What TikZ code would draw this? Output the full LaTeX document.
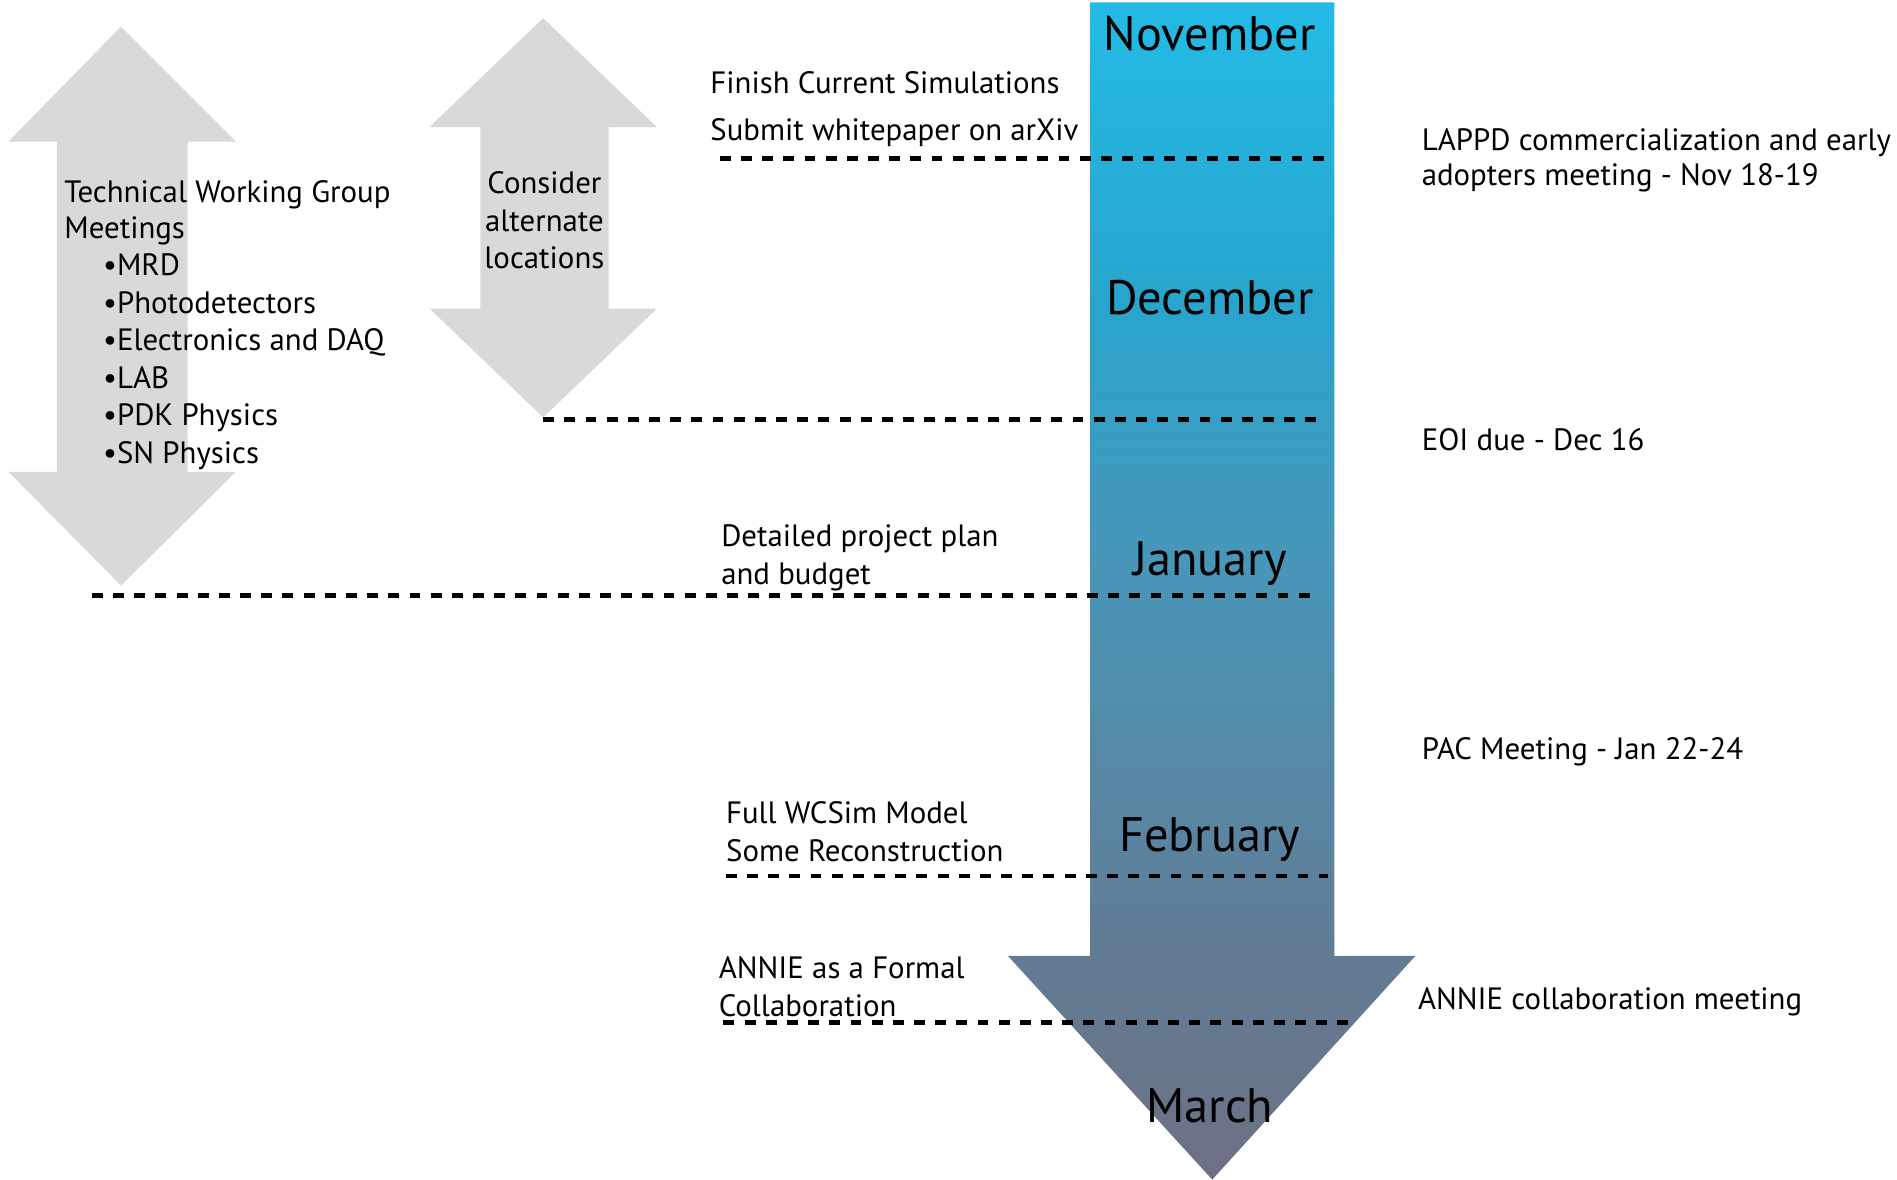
\documentclass[tikz,border=0pt]{standalone}
\usepackage{fontspec}
\setmainfont{PT Sans}
\definecolor{arrowgray}{RGB}{217,217,217}
\definecolor{mA}{RGB}{110,112,132}
\definecolor{mB}{RGB}{98,124,148}
\definecolor{mC}{RGB}{90,132,160}
\definecolor{mD}{RGB}{72,150,185}
\definecolor{mE}{RGB}{40,165,205}
\definecolor{mF}{RGB}{35,187,229}
\pgfdeclareverticalshading{mainarrow}{100bp}{color(0bp)=(mA); color(25bp)=(mA); color(34.5bp)=(mB); color(39.65bp)=(mC); color(51.35bp)=(mD); color(62.45bp)=(mE); color(75bp)=(mF); color(100bp)=(mF)}
\begin{document}
\begin{tikzpicture}[x=1pt,y=-1pt,
  grayarrow/.style={fill=arrowgray, draw=none},
  txt/.style={anchor=base west, inner sep=0pt, font=\fontsize{25.5}{31}\selectfont},
  month/.style={anchor=base, inner sep=0pt, font=\fontsize{40}{48}\selectfont},
  marker/.style={line width=4pt, dash pattern=on 9pt off 8.5pt}]
\useasboundingbox (0,0) rectangle (1568,975);
% grey double arrows
\fill[grayarrow] (100,22) -- (195,117) -- (155,117) -- (155,390) -- (195,390) -- (100,484) -- (7,390) -- (47,390) -- (47,117) -- (7,117) -- cycle;
\fill[grayarrow] (449,15) -- (543,105) -- (503,105) -- (503,255) -- (543,255) -- (449,345) -- (355,255) -- (397,255) -- (397,105) -- (355,105) -- cycle;
% main timeline arrow
\path[shading=mainarrow] (901,2) -- (1103,2) -- (1103,790) -- (1170,790) -- (1002,975) -- (833,790) -- (901,790) -- cycle;
% months
\node[month] (nov) at (1000,42) {November};
\node[month] (dec) at (1000,260) {December};
\node[month] (jan) at (1000,476) {January};
\node[month] (feb) at (1000,704) {February};
\node[month] (mar) at (1000,928) {March};
% dashed markers
\coordinate (d1a) at (595,131); \coordinate (d1b) at (1100,131);
\coordinate (d2a) at (449,347); \coordinate (d2b) at (1092,347);
\coordinate (d3a) at (76,492);  \coordinate (d3b) at (1090,492);
\coordinate (d4a) at (600,724); \coordinate (d4b) at (1098,724);
\coordinate (d5a) at (598,845); \coordinate (d5b) at (1120,845);
\draw[marker] (d1a) -- (d1b);
\draw[marker] (d2a) -- (d2b);
\draw[marker] (d3a) -- (d3b);
\draw[marker] (d4a) -- (d4b);
\draw[marker] (d5a) -- (d5b);
% left texts
\node[txt] (twg1) at (53,167) {Technical Working Group};
\node[txt] (twg2) at (53,197) {Meetings};
\node[txt] (b1) at (85,228) {•MRD};
\node[txt] (b2) at (85,259) {•Photodetectors};
\node[txt] (b3) at (85,290) {•Electronics and DAQ};
\node[txt] (b4) at (85,321) {•LAB};
\node[txt] (b5) at (85,352) {•PDK Physics};
\node[txt] (b6) at (85,383) {•SN Physics};
\node[txt, anchor=base] (c1) at (450,160) {Consider};
\node[txt, anchor=base] (c2) at (450,191) {alternate};
\node[txt, anchor=base] (c3) at (450,222) {locations};
% middle texts
\node[txt] (fin) at (587,77) {Finish Current Simulations};
\node[txt] (sub) at (587,116) {Submit whitepaper on arXiv};
\node[txt] (det1) at (596,452) {Detailed project plan};
\node[txt] (det2) at (596,483) {and budget};
\node[txt] (wc1) at (600,681) {Full WCSim Model};
\node[txt] (wc2) at (600,712) {Some Reconstruction};
\node[txt] (an1) at (594,809) {ANNIE as a Formal};
\node[txt] (an2) at (594,840) {Collaboration};
% right texts
\node[txt] (lap1) at (1175,124) {LAPPD commercialization and early};
\node[txt] (lap2) at (1175,153) {adopters meeting - Nov 18-19};
\node[txt] (eoi) at (1175,372) {EOI due - Dec 16};
\node[txt] (pac) at (1175,628) {PAC Meeting - Jan 22-24};
\node[txt] (acm) at (1172,834) {ANNIE collaboration meeting};
\end{tikzpicture}
\end{document}
